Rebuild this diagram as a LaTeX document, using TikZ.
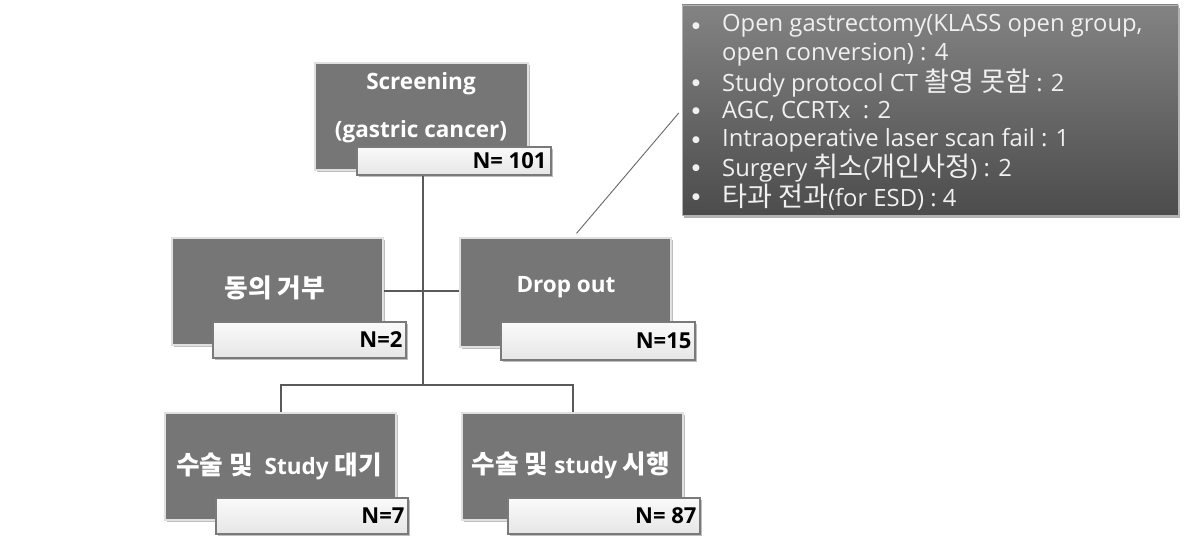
\documentclass[tikz,border=0pt]{standalone}
\usepackage{fontspec}
\setmainfont{Open Sans}
\newfontfamily\kr[Scale=1.14]{Noto Sans CJK KR}
\newfontfamily\dv{DejaVu Sans}
\usetikzlibrary{shadows}
\definecolor{boxgray}{HTML}{767676}
\definecolor{linegray}{HTML}{595959}
\definecolor{calltop}{HTML}{838383}
\definecolor{callbot}{HTML}{4C4C4C}
\definecolor{ntop}{HTML}{FAFAFA}
\definecolor{nbot}{HTML}{E6E6E6}
\definecolor{nborder}{HTML}{7A7A7A}
\definecolor{bullettext}{HTML}{F0F0F0}
\begin{document}
\begin{tikzpicture}[x=1pt,y=-1pt,
  darkbox/.style={fill=boxgray, draw=white!88!black, line width=1.2pt, inner sep=0pt,
    drop shadow={shadow xshift=2pt, shadow yshift=-2pt, opacity=0.25, fill=black}},
  nbox/.style={top color=ntop, bottom color=nbot, draw=nborder, line width=1.2pt, inner sep=0pt,
    drop shadow={shadow xshift=2pt, shadow yshift=-2pt, opacity=0.25, fill=black}},
  ntext/.style={font=\fontsize{22}{26}\selectfont\bfseries, text=black, inner sep=0pt, anchor=east},
  ttl/.style={font=\fontsize{22.5}{27}\selectfont\bfseries, text=white, inner sep=0pt},
  conn/.style={draw=linegray, line width=2pt},
  thinline/.style={draw=gray!80!black, line width=0.9pt},
  callbox/.style={top color=calltop, bottom color=callbot, draw=gray!60, line width=0.5pt, inner sep=0pt,
    drop shadow={shadow xshift=2pt, shadow yshift=-3pt, opacity=0.3, fill=black}},
  btext/.style={font=\fontsize{23.8}{28}\selectfont, text=bullettext, inner sep=0pt, anchor=west},
  bdot/.style={font=\fontsize{9}{10}\selectfont\dv, text=bullettext, inner sep=0pt},
]
\useasboundingbox (0,0) rectangle (1186,553);

% boxes
\node[darkbox, minimum width=213pt, minimum height=107pt] (scr) at (421.5,116.5) {};
\node[nbox, minimum width=194pt, minimum height=28pt] (scrN) at (454,161) {};
\node[darkbox, minimum width=211pt, minimum height=107pt] (dong) at (277.5,291.5) {};
\node[nbox, minimum width=193pt, minimum height=36pt] (dongN) at (309.5,340) {};
\node[darkbox, minimum width=211pt, minimum height=109pt] (drop) at (565.5,292.5) {};
\node[nbox, minimum width=194pt, minimum height=38pt] (dropN) at (598,341) {};
\node[darkbox, minimum width=231pt, minimum height=107pt] (wait) at (280.5,466.5) {};
\node[nbox, minimum width=192pt, minimum height=36pt] (waitN) at (312,516) {};
\node[darkbox, minimum width=221pt, minimum height=107pt] (done) at (572.5,466.5) {};
\node[nbox, minimum width=192pt, minimum height=36pt] (doneN) at (604,516) {};

% titles
\node[ttl] (t1) at (421,84) {Screening};
\node[ttl] (t2) at (421,132) {(gastric cancer)};
\node[ttl] (t3) at (275,288) {\kr 동의 거부};
\node[ttl] (t4) at (566,287) {Drop out};
\node[ttl] (t5) at (279,466) {{\kr 수술 및}\ \ Study {\kr 대기}};
\node[ttl] (t6) at (571,465) {{\kr 수술 및} study {\kr 시행}};

% N labels
\node[ntext] (n1) at ([xshift=-5pt]scrN.east) {N=\ 101};
\node[ntext] (n2) at ([xshift=-4pt]dongN.east) {N=2};
\node[ntext] (n3) at ([xshift=-4pt]dropN.east) {N=15};
\node[ntext] (n4) at ([xshift=-4pt]waitN.east) {N=7};
\node[ntext] (n5) at ([xshift=-4pt]doneN.east) {N=\ 87};

% connectors
\coordinate (trunk) at (423,385);
\coordinate (mid) at (423,291);
\draw[conn] (scrN.south -| trunk) -- (trunk);
\draw[conn] (dong.east |- mid) -- (drop.west |- mid);
\draw[conn] (wait.north) |- (trunk) -| (done.north);

% callout
\node[callbox, minimum width=496pt, minimum height=210pt] (co) at (930,110) {};
\draw[thinline] ([xshift=11pt,yshift=4pt]drop.north) -- ([xshift=-3pt,yshift=-3pt]co.west);

\node[bdot] (b1) at (696,26) {●};
\node[btext] (l1) at (722,26) {Open gastrectomy(KLASS open group,};
\node[btext] (l2) at (722,54.5) {open conversion) : 4};
\node[bdot] (b2) at (696,83) {●};
\node[btext] (l3) at (722,83) {Study protocol CT {\kr 촬영 못함} : 2};
\node[bdot] (b3) at (696,111.5) {●};
\node[btext] (l4) at (722,111.5) {AGC, CCRTx\ \ : 2};
\node[bdot] (b4) at (696,140) {●};
\node[btext] (l5) at (722,140) {Intraoperative laser scan fail : 1};
\node[bdot] (b5) at (696,168.5) {●};
\node[btext] (l6) at (722,168.5) {Surgery {\kr 취소}({\kr 개인사정}) : 2};
\node[bdot] (b6) at (696,197) {●};
\node[btext] (l7) at (722,197) {{\kr 타과 전과}(for ESD) : 4};
\end{tikzpicture}
\end{document}
